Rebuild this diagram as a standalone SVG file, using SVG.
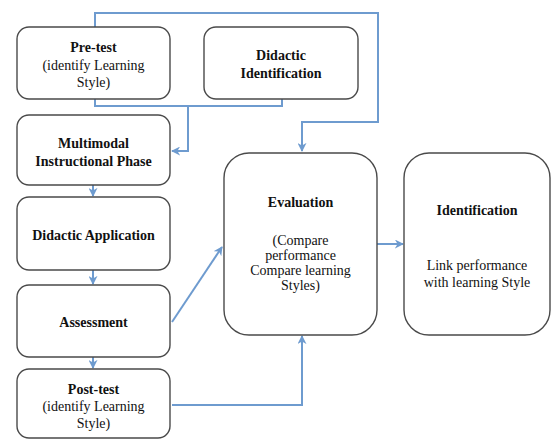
<svg xmlns="http://www.w3.org/2000/svg" width="551" height="440" viewBox="0 0 551 440">
<defs>
<marker id="ah" viewBox="0 0 10 10" refX="9" refY="5" markerWidth="4.5" markerHeight="4.5" orient="auto" markerUnits="strokeWidth">
<path d="M0,0 L10,5 L0,10 L3,5 z" fill="#6e9bcf"/>
</marker>
<style>
.box{fill:#fff;stroke:#4a4a4a;stroke-width:1.4}
.t{font-family:'Liberation Serif','Times New Roman',serif;font-size:14px;fill:#111;text-anchor:middle}
.b{font-weight:bold}
.c{fill:none;stroke:#6e9bcf;stroke-width:2;marker-end:url(#ah)}
.cn{fill:none;stroke:#6e9bcf;stroke-width:2}
</style>
</defs>
<rect width="551" height="440" fill="#fff"/>
<g id="connectors">
<path class="c" d="M95,27 V13 H378 V122 H302 V151"/>
<path class="cn" d="M95,99 V106 H282 V99"/>
<path class="c" d="M188,106 V151 H172"/>
<path class="c" d="M93,185 V196"/>
<path class="c" d="M93,270 V284"/>
<path class="c" d="M93,357 V368"/>
<path class="c" d="M172,322 L222,247"/>
<path class="c" d="M172,405 H302 V336"/>
<path class="c" d="M377,244 H403"/>
</g>
<g id="pretest">
<rect class="box" x="17" y="27" width="153" height="72" rx="12"/>
<text class="t b" x="93.5" y="52">Pre-test</text>
<text class="t" x="93.5" y="70">(identify Learning</text>
<text class="t" x="93.5" y="87">Style)</text>
</g>
<g id="didactic-identification">
<rect class="box" x="204" y="27" width="154" height="72" rx="12"/>
<text class="t b" x="281" y="60">Didactic</text>
<text class="t b" x="281" y="78">Identification</text>
</g>
<g id="multimodal">
<rect class="box" x="17" y="115" width="153" height="70" rx="12"/>
<text class="t b" x="93.5" y="148">Multimodal</text>
<text class="t b" x="93.5" y="166">Instructional Phase</text>
</g>
<g id="didactic-application">
<rect class="box" x="17" y="197" width="153" height="73" rx="12"/>
<text class="t b" x="93.5" y="240">Didactic Application</text>
</g>
<g id="assessment">
<rect class="box" x="17" y="285" width="153" height="72" rx="12"/>
<text class="t b" x="93.5" y="327">Assessment</text>
</g>
<g id="posttest">
<rect class="box" x="17" y="369" width="153" height="69" rx="12"/>
<text class="t b" x="93.5" y="394">Post-test</text>
<text class="t" x="93.5" y="411">(identify Learning</text>
<text class="t" x="93.5" y="428">Style)</text>
</g>
<g id="evaluation">
<rect class="box" x="224" y="153" width="153" height="182" rx="25"/>
<text class="t b" x="300.5" y="207">Evaluation</text>
<text class="t" x="300.5" y="245">(Compare</text>
<text class="t" x="300.5" y="260">performance</text>
<text class="t" x="300.5" y="275">Compare learning</text>
<text class="t" x="300.5" y="290">Styles)</text>
</g>
<g id="identification">
<rect class="box" x="404" y="153" width="146" height="182" rx="25"/>
<text class="t b" x="477" y="215">Identification</text>
<text class="t" x="477" y="270">Link performance</text>
<text class="t" x="477" y="287">with learning Style</text>
</g>
</svg>
